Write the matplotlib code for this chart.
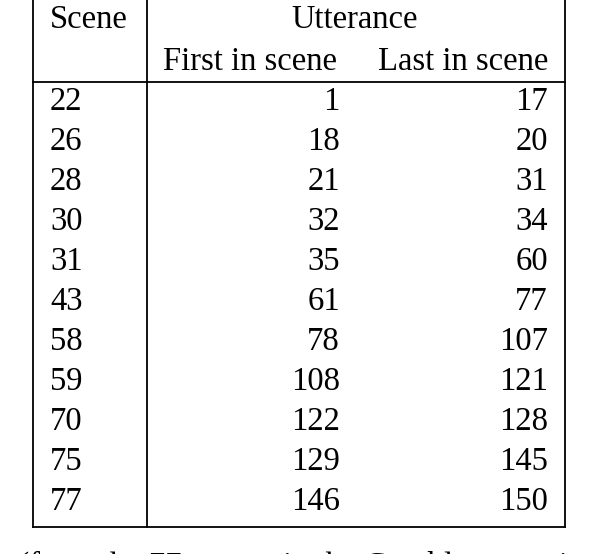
import matplotlib.pyplot as plt

scenes = ["22", "26", "28", "30", "31", "43", "58", "59", "70", "75", "77"]
first_utt = [1, 18, 21, 32, 35, 61, 78, 108, 122, 129, 146]
last_utt = [17, 20, 31, 34, 60, 77, 107, 121, 128, 145, 150]

plt.rcParams['font.family'] = ['Liberation Serif', 'DejaVu Serif']
fig = plt.figure(figsize=(5.94, 5.54), dpi=100)
ax = fig.add_axes([0, 0, 1, 1])
ax.set_xlim(0, 594)
ax.set_ylim(554, 0)
ax.axis('off')

fs = 23.5
lw = 1.3
# frame
ax.plot([33, 33], [0, 527], color='black', lw=lw)
ax.plot([565, 565], [0, 527], color='black', lw=lw)
ax.plot([147, 147], [0, 527], color='black', lw=lw)
ax.plot([33, 565], [82, 82], color='black', lw=lw)
ax.plot([33, 565], [527, 527], color='black', lw=lw)

ax.text(50, 20, "Scene", fontsize=fs, va='center', ha='left')
ax.text(355, 20, "Utterance", fontsize=fs, va='center', ha='center')
ax.text(163, 62, "First in scene", fontsize=fs, va='center', ha='left')
ax.text(548, 62, "Last in scene", fontsize=fs, va='center', ha='right')

for i, (s, f, l) in enumerate(zip(scenes, first_utt, last_utt)):
    y = 102 + 40 * i
    ax.text(50, y, s, fontsize=fs, va='center', ha='left')
    ax.text(340, y, str(f), fontsize=fs, va='center', ha='right')
    ax.text(548, y, str(l), fontsize=fs, va='center', ha='right')

# caption cut off by the bottom edge, as in the source
ax.text(-6, 566, "n (from the 77 scenes in the Casablanca script) a", fontsize=fs,
        va='center', ha='left')

fig.savefig("out.png", dpi=100)
